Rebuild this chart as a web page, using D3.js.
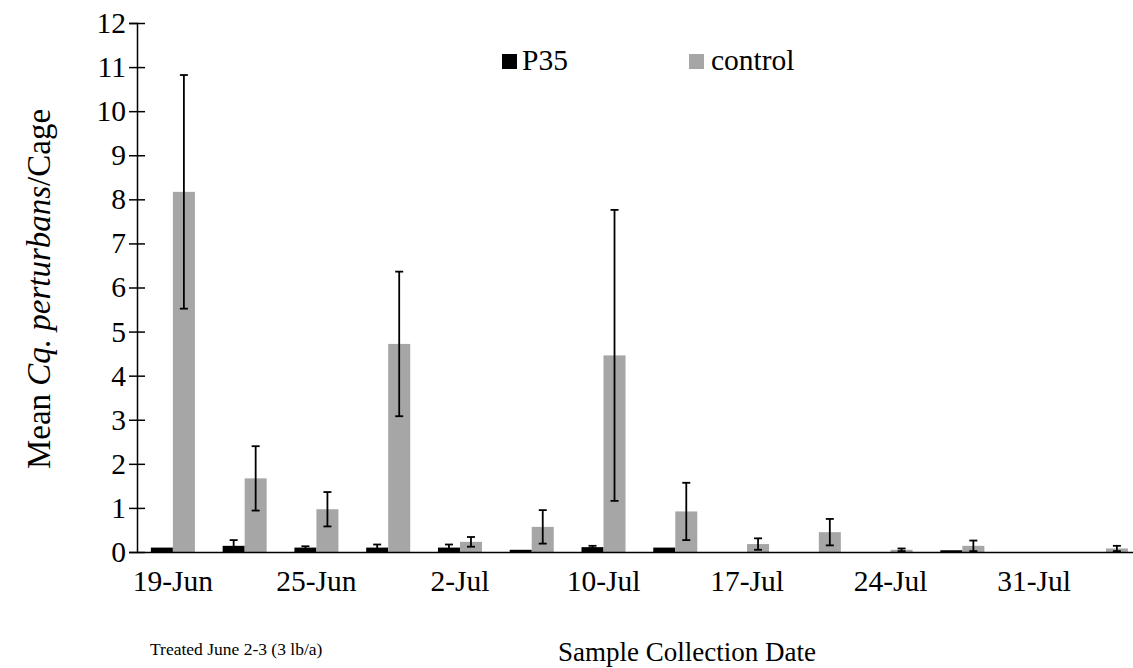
<!DOCTYPE html>
<html>
<head>
<meta charset="utf-8">
<script src="https://cdn.jsdelivr.net/npm/d3@7"></script>
<style>
  html, body { margin: 0; padding: 0; background: #fff; }
  svg { display: block; }
  svg text { font-family: "Liberation Serif", "Times New Roman", serif !important; fill: #000; }
</style>
</head>
<body>
<svg id="chart" width="1133" height="668"></svg>
<script>
// ---- data ----
const categories = ["19-Jun","22-Jun","25-Jun","28-Jun","2-Jul","5-Jul","10-Jul","13-Jul","17-Jul","20-Jul","24-Jul","27-Jul","31-Jul","3-Aug"];
const shownTickLabels = ["19-Jun","25-Jun","2-Jul","10-Jul","17-Jul","24-Jul","31-Jul"];
const seriesNames = ["P35","control"];
const p35Values   = [0.10, 0.14, 0.10, 0.10, 0.10, 0.05, 0.11, 0.10, 0.00, 0.00, 0.00, 0.04, 0.00, 0.00];
const p35Errors   = [0.00, 0.13, 0.03, 0.07, 0.07, 0.00, 0.03, 0.00, 0.00, 0.00, 0.00, 0.00, 0.00, 0.00];
const controlValues = [8.17, 1.67, 0.97, 4.72, 0.23, 0.57, 4.46, 0.92, 0.18, 0.45, 0.05, 0.14, 0.00, 0.08];
const controlErrors = [2.65, 0.73, 0.39, 1.64, 0.11, 0.38, 3.30, 0.65, 0.13, 0.30, 0.03, 0.12, 0.00, 0.06];
const yTicks = [0,1,2,3,4,5,6,7,8,9,10,11,12];

const series = [
  {name: "P35", values: p35Values, errors: p35Errors, color: "#000000"},
  {name: "control", values: controlValues, errors: controlErrors, color: "#a6a6a6"}
];

const FONT = "'Liberation Serif', 'Times New Roman', serif";
const BASE = 27;           // rendered font size
const S = 29.5 / BASE;     // scale to reach the visual size

// ---- layout ----
const svg = d3.select("#chart");
const x0Left = 137, step = 71.77;
const x = d3.scaleBand().domain(categories).range([x0Left, x0Left + step * categories.length]).paddingInner(0).paddingOuter(0);
const xs = d3.scaleBand().domain(seriesNames).range([0, x.bandwidth()]).paddingInner(0).paddingOuter(0.63);
const y = d3.scaleLinear().domain([0, 12]).range([552, 23]);

// bars
series.forEach(s => {
  const g = svg.append("g");
  g.selectAll("rect").data(s.values).enter().append("rect")
    .attr("x", (d, i) => x(categories[i]) + xs(s.name))
    .attr("width", xs.bandwidth())
    .attr("y", d => y(d))
    .attr("height", d => y(0) - y(d))
    .attr("fill", s.color);
});

// error bars
series.forEach(s => {
  const g = svg.append("g").attr("stroke", "#000").attr("stroke-width", 1.8);
  s.values.forEach((v, i) => {
    const e = s.errors[i];
    if (e <= 0) return;
    const cx = x(categories[i]) + xs(s.name) + xs.bandwidth() / 2;
    const lo = Math.max(0, v - e), hi = v + e;
    g.append("line").attr("x1", cx).attr("x2", cx).attr("y1", y(lo)).attr("y2", y(hi));
    g.append("line").attr("x1", cx - 4).attr("x2", cx + 4).attr("y1", y(hi)).attr("y2", y(hi));
    g.append("line").attr("x1", cx - 4).attr("x2", cx + 4).attr("y1", y(lo)).attr("y2", y(lo));
  });
});

// y axis
const yAxis = d3.axisLeft(y).tickValues(yTicks).tickSize(8).tickPadding(4).tickFormat(d3.format("d"));
const gy = svg.append("g").attr("transform", `translate(${x0Left},0)`).call(yAxis)
  .attr("font-family", null).attr("font-size", null);
gy.select(".domain").attr("stroke", "#000").attr("stroke-width", 1.5);
gy.selectAll(".tick line").attr("stroke", "#000").attr("stroke-width", 1.5).attr("x2", 8).attr("x1", -8);
gy.selectAll(".tick text").style("font-size", BASE + "px").style("font-family", FONT)
  .attr("x", -11 / S).attr("transform", `scale(${S})`);

// x axis
const xAxis = d3.axisBottom(x).tickSize(0).tickPadding(18)
  .tickFormat(d => shownTickLabels.includes(d) ? d : "");
const gx = svg.append("g").attr("transform", `translate(0,${y(0)})`).call(xAxis)
  .attr("font-family", null).attr("font-size", null);
gx.select(".domain").attr("stroke", "#000").attr("stroke-width", 1.5);
gx.selectAll(".tick text").style("font-size", BASE + "px").style("font-family", FONT)
  .attr("y", 18 / S).attr("dy", "0.71em").attr("transform", `scale(${S})`);

// axis titles
svg.append("text").attr("x", 687).attr("y", 661).attr("text-anchor", "middle")
  .style("font-size", "27px").style("font-family", FONT).text("Sample Collection Date");

const yt = svg.append("text").attr("transform", "translate(50,289) rotate(-90)")
  .attr("text-anchor", "middle").style("font-size", "33px").style("font-family", FONT);
yt.append("tspan").text("Mean ");
yt.append("tspan").attr("font-style", "italic").text("Cq. perturbans");
yt.append("tspan").text("/Cage");

// note
svg.append("text").attr("x", 150).attr("y", 655).style("font-size", "17.5px").style("font-family", FONT)
  .text("Treated June 2-3 (3 lb/a)");

// legend
const legendPos = [{x: 502, tx: 522}, {x: 689, tx: 711}];
series.forEach((s, i) => {
  svg.append("rect").attr("x", legendPos[i].x).attr("y", 54).attr("width", 15).attr("height", 15).attr("fill", s.color);
  svg.append("text").attr("transform", `translate(${legendPos[i].tx},70) scale(${S})`)
    .style("font-size", BASE + "px").style("font-family", FONT).text(s.name);
});
</script>
</body>
</html>
